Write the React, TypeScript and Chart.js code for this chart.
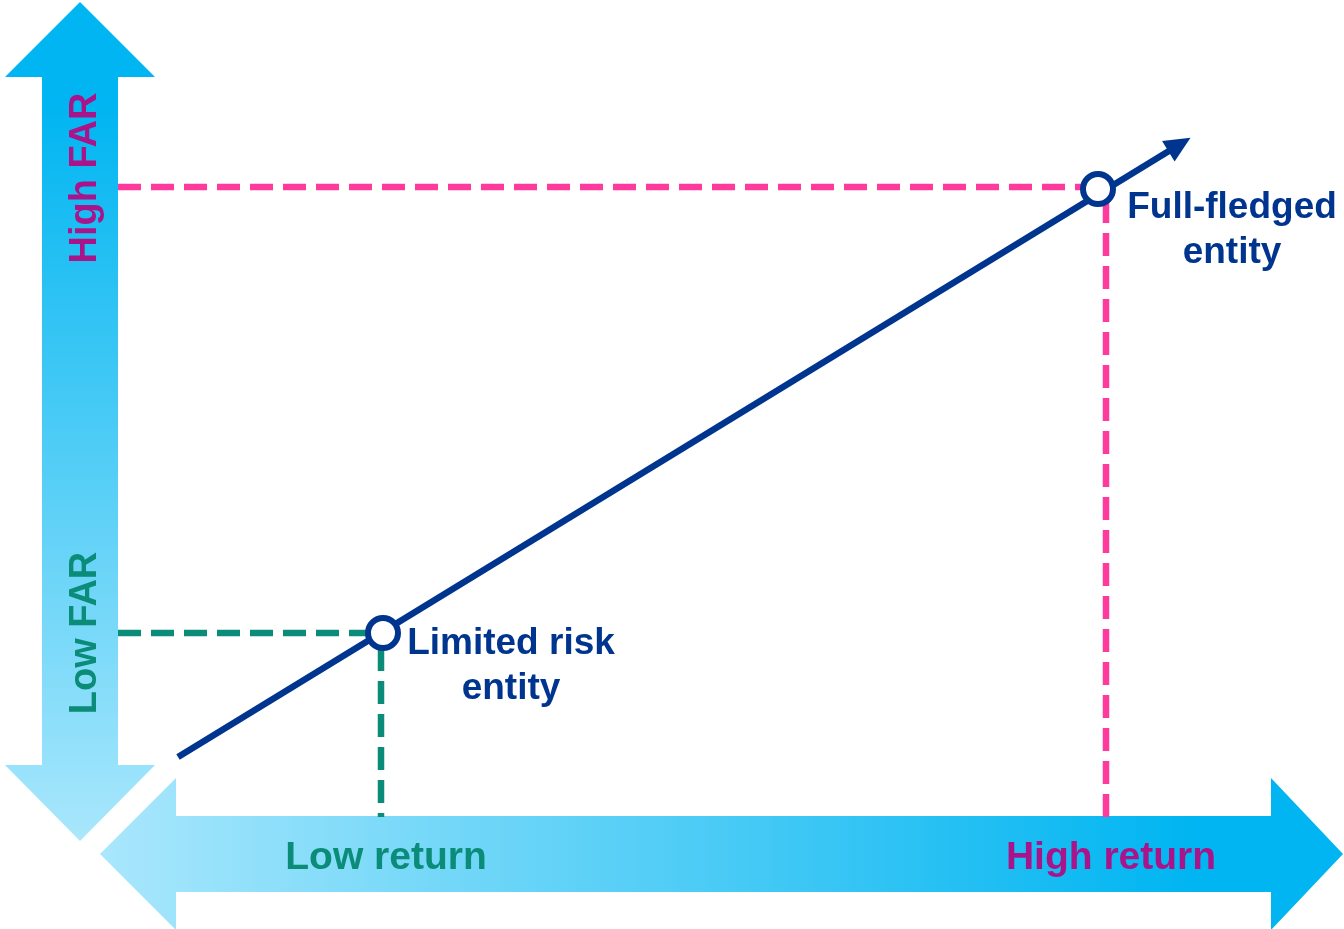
import React, { useEffect, useRef } from "react";
import { Chart, registerables } from "chart.js";

Chart.register(...registerables);

// ---- Data (in diagram units: x = return axis, y = FAR axis, top-down) ----
const X_RANGE = [0, 1344];
const Y_RANGE = [0, 929];

const trendLine = [
  { x: 178, y: 757 },
  { x: 1182, y: 143 },
];
const entityPoints = [
  { x: 383, y: 633 },
  { x: 1098, y: 189 },
];
const entityLabels = [
  ["Limited risk", "entity"],
  ["Full-fledged", "entity"],
];
const entityLabelAnchors = [
  { x: 511, y: 654 },
  { x: 1232, y: 218 },
];
const highGuideH = [
  { x: 118, y: 187 },
  { x: 1085, y: 187 },
];
const highGuideV = [
  { x: 1106, y: 200 },
  { x: 1106, y: 817 },
];
const lowGuideH = [
  { x: 118, y: 633 },
  { x: 370, y: 633 },
];
const lowGuideV = [
  { x: 381, y: 648 },
  { x: 381, y: 817 },
];
const verticalArrow = [
  [80, 2], [155, 77], [118, 77], [118, 765], [155, 765], [80, 841],
  [5, 765], [42, 765], [42, 77], [5, 77],
];
const horizontalArrow = [
  [100, 854], [176, 778], [176, 816], [1271, 816], [1271, 778], [1343, 854],
  [1271, 930], [1271, 892], [176, 892], [176, 930],
];
const yAxisLabels = ["High FAR", "Low FAR"];
const yAxisLabelPos = [
  { x: 96, y: 178 },
  { x: 96, y: 633 },
];
const xAxisLabels = ["Low return", "High return"];
const xAxisLabelPos = [
  { x: 386, y: 869 },
  { x: 1111, y: 869 },
];

const NAVY = "#00358f";
const PINK = "#ff3a9d";
const MAGENTA = "#a9148b";
const TEAL = "#0a8c78";
const BRIGHT = "#00b5f1";
const LIGHT = "#a9e7fc";
const FONT = '"Liberation Sans", Arial, Helvetica, sans-serif';

const backgroundPlugin = {
  id: "diagramArrows",
  beforeDatasetsDraw(chart: any) {
    const { ctx, scales } = chart;
    const sx = (v: number) => scales.x.getPixelForValue(v);
    const sy = (v: number) => scales.y.getPixelForValue(v);
    const poly = (pts: number[][]) => {
      ctx.beginPath();
      pts.forEach((p, i) => (i === 0 ? ctx.moveTo(sx(p[0]), sy(p[1])) : ctx.lineTo(sx(p[0]), sy(p[1]))));
      ctx.closePath();
    };
    ctx.save();
    let g = ctx.createLinearGradient(0, sy(2), 0, sy(841));
    g.addColorStop(0, BRIGHT);
    g.addColorStop(0.12, BRIGHT);
    g.addColorStop(1, LIGHT);
    poly(verticalArrow);
    ctx.fillStyle = g;
    ctx.fill();
    g = ctx.createLinearGradient(sx(100), 0, sx(1343), 0);
    g.addColorStop(0, LIGHT);
    g.addColorStop(0.88, BRIGHT);
    g.addColorStop(1, BRIGHT);
    poly(horizontalArrow);
    ctx.fillStyle = g;
    ctx.fill();
    ctx.restore();
  },
  afterDatasetsDraw(chart: any) {
    const { ctx, scales } = chart;
    const sx = (v: number) => scales.x.getPixelForValue(v);
    const sy = (v: number) => scales.y.getPixelForValue(v);
    ctx.save();
    const a = trendLine[trendLine.length - 2];
    const b = trendLine[trendLine.length - 1];
    const ax = sx(a.x), ay = sy(a.y), bx = sx(b.x), by = sy(b.y);
    const len = Math.hypot(bx - ax, by - ay);
    const ux = (bx - ax) / len, uy = (by - ay) / len;
    const tipX = bx + ux * 10, tipY = by + uy * 10;
    const baseX = bx - ux * 16, baseY = by - uy * 16;
    const hw = 12;
    ctx.beginPath();
    ctx.moveTo(tipX, tipY);
    ctx.lineTo(baseX - uy * hw, baseY + ux * hw);
    ctx.lineTo(baseX + uy * hw, baseY - ux * hw);
    ctx.closePath();
    ctx.fillStyle = NAVY;
    ctx.fill();

    ctx.fillStyle = NAVY;
    ctx.font = `bold 37px ${FONT}`;
    ctx.textAlign = "center";
    ctx.textBaseline = "alphabetic";
    entityLabels.forEach((lines, i) => {
      const p = entityLabelAnchors[i];
      lines.forEach((t, j) => ctx.fillText(t, sx(p.x), sy(p.y) + j * 45));
    });

    ctx.font = `bold 38px ${FONT}`;
    const yColors = [MAGENTA, TEAL];
    yAxisLabels.forEach((t, i) => {
      const p = yAxisLabelPos[i];
      ctx.save();
      ctx.translate(sx(p.x), sy(p.y));
      ctx.rotate(-Math.PI / 2);
      ctx.fillStyle = yColors[i];
      ctx.fillText(t, 0, 0);
      ctx.restore();
    });
    const xColors = [TEAL, MAGENTA];
    ctx.font = `bold 39px ${FONT}`;
    xAxisLabels.forEach((t, i) => {
      const p = xAxisLabelPos[i];
      ctx.fillStyle = xColors[i];
      ctx.fillText(t, sx(p.x), sy(p.y));
    });
    ctx.restore();
  },
};

const guide = (data: any[], color: string) => ({
  type: "line" as const,
  data,
  borderColor: color,
  borderWidth: 6.5,
  borderDash: [23, 10],
  pointRadius: 0,
  showLine: true,
  fill: false,
  tension: 0,
  clip: false,
});

export default function App() {
  const ref = useRef<HTMLCanvasElement | null>(null);
  useEffect(() => {
    document.body.style.margin = "0";
    if (!ref.current) return;
    const chart = new Chart(ref.current, {
      type: "scatter",
      data: {
        datasets: [
          {
            data: entityPoints,
            pointRadius: 15,
            pointHoverRadius: 15,
            pointBorderWidth: 6,
            pointBackgroundColor: "#ffffff",
            pointBorderColor: NAVY,
            showLine: false,
            clip: false,
          } as any,
          {
            data: trendLine,
            showLine: true,
            borderColor: NAVY,
            borderWidth: 6.5,
            pointRadius: 0,
            tension: 0,
            clip: false,
          } as any,
          guide(highGuideH, PINK),
          guide(highGuideV, PINK),
          guide(lowGuideH, TEAL),
          guide(lowGuideV, TEAL),
        ],
      },
      options: {
        responsive: false,
        animation: false,
        layout: { padding: 0, autoPadding: false },
        plugins: { legend: { display: false }, tooltip: { enabled: false } },
        events: [],
        scales: {
          x: { type: "linear", min: X_RANGE[0], max: X_RANGE[1], display: false },
          y: { type: "linear", min: Y_RANGE[0], max: Y_RANGE[1], reverse: true, display: false },
        },
      } as any,
      plugins: [backgroundPlugin],
    });
    return () => chart.destroy();
  }, []);
  return (
    <div style={{ width: 1344, height: 929, background: "#fff" }}>
      <canvas ref={ref} width={1344} height={929} style={{ display: "block" }} />
    </div>
  );
}
